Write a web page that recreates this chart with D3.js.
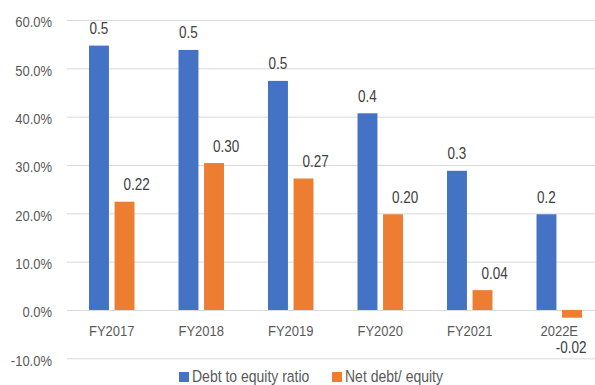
<!DOCTYPE html>
<html>
<head>
<meta charset="utf-8">
<script src="https://cdn.jsdelivr.net/npm/d3@7"></script>
<style>
  html, body { margin: 0; padding: 0; background: #fff; }
  svg { display: block; font-family: "Liberation Sans", Arial, sans-serif; }
</style>
</head>
<body>
<svg id="chart" width="595" height="385"></svg>
<script>
// Gearing ratios by fiscal year
const categories = ["FY2017", "FY2018", "FY2019", "FY2020", "FY2021", "2022E"];
const seriesNames = ["Debt to equity ratio", "Net debt/ equity"];
const debtToEquity = [0.547, 0.538, 0.474, 0.407, 0.288, 0.198];
const netDebtToEquity = [0.224, 0.304, 0.272, 0.198, 0.041, -0.016];
const yTicks = [-0.1, 0, 0.1, 0.2, 0.3, 0.4, 0.5, 0.6];
const colors = ["#4472C4", "#ED7D31"];

const locale = d3.formatLocale({ decimal: ".", thousands: ",", grouping: [3], currency: ["$", ""], minus: "-" });
const pct = locale.format(".1%");
const labelFormats = [locale.format(".1f"), locale.format(".2f")];

const rows = categories.map((c, i) => ({ cat: c, values: [debtToEquity[i], netDebtToEquity[i]] }));

// Slightly tall lettering
const stretch = 1.18;
const fs = 13;
const labelFs = 13.5;

const svg = d3.select("#chart");
const left = 67, right = 595, plotRight = 604;

const y = d3.scaleLinear().domain([-0.1, 0.6]).range([358.3, 20]);
const x0 = d3.scaleBand().domain(categories).range([left, plotRight])
  .paddingInner(0.492).paddingOuter(0.246);
const x1 = d3.scaleBand().domain([0, 1]).range([0, x0.bandwidth()]).paddingInner(0.22);

// Gridlines and value axis
const yAxis = svg.append("g")
  .attr("transform", `translate(${left},0)`)
  .call(d3.axisLeft(y).tickValues(yTicks).tickFormat(pct)
    .tickSize(-(right - left)).tickPadding(15));
yAxis.select(".domain").remove();
yAxis.selectAll("line").attr("stroke", "#d9d9d9").attr("stroke-width", 1);
yAxis.selectAll("text").attr("fill", "#595959").attr("font-size", fs)
  .attr("font-family", null).attr("dy", "0.45em")
  .attr("transform", `scale(1,${stretch})`);

// Category axis
const xAxis = svg.append("g")
  .attr("transform", `translate(0,${y(0)})`)
  .call(d3.axisBottom(x0).tickSize(0).tickPadding(13));
xAxis.select(".domain").remove();
xAxis.selectAll("text").attr("fill", "#595959").attr("font-size", fs)
  .attr("font-family", null).attr("transform", `scale(1,${stretch})`);

// Bars
const groups = svg.append("g").selectAll("g").data(rows).join("g")
  .attr("transform", d => `translate(${x0(d.cat)},0)`);

groups.selectAll("rect").data(d => d.values.map((v, s) => ({ v, s }))).join("rect")
  .attr("x", d => x1(d.s))
  .attr("width", x1.bandwidth())
  .attr("y", d => y(Math.max(0, d.v)))
  .attr("height", d => Math.abs(y(d.v) - y(0)))
  .attr("fill", d => colors[d.s]);

// Value labels; a negative value sits beneath its category name
groups.selectAll("text.val").data(d => d.values.map((v, s) => ({ v, s }))).join("text")
  .attr("class", "val")
  .attr("transform", d => {
    const lx = x1(d.s) + x1.bandwidth() / 2 + (d.v < 0 ? -1 : (d.s === 1 ? 12 : 0));
    const ly = d.v < 0 ? y(0) + 43 : y(d.v) - 11.5;
    return `translate(${lx},${ly}) scale(1,${stretch})`;
  })
  .attr("text-anchor", "middle")
  .attr("font-size", labelFs)
  .attr("fill", "#404040")
  .text(d => labelFormats[d.s](d.v));

// Legend
const legendX = [179, 332];
const legend = svg.append("g").selectAll("g").data(seriesNames).join("g")
  .attr("transform", (d, i) => `translate(${legendX[i]},372)`);
legend.append("rect").attr("width", 10).attr("height", 10).attr("fill", (d, i) => colors[i]);
legend.append("text").attr("transform", `translate(13,10) scale(1,${stretch})`)
  .attr("font-size", 14).attr("fill", "#595959").text(d => d);
</script>
</body>
</html>
